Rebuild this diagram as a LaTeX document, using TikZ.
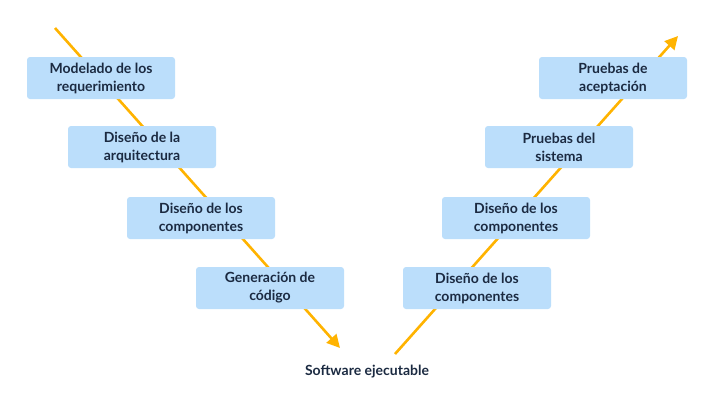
\documentclass[tikz,border=0pt]{standalone}
\usepackage{fontspec}
\setmainfont{Lato}
\usetikzlibrary{arrows.meta}
\definecolor{boxfill}{HTML}{BBDEFB}
\definecolor{txt}{HTML}{1B2A41}
\definecolor{arr}{HTML}{FFB300}
\begin{document}
\begin{tikzpicture}[x=1pt,y=-1pt,
  stage/.style={draw=none,fill=boxfill,rounded corners=3pt,minimum width=148pt,minimum height=42pt,
    align=center,text=txt,font=\fontsize{14pt}{18pt}\selectfont\bfseries,inner sep=0pt},
  flow/.style={draw=arr,line width=2.6pt,-{Triangle[length=13pt,width=13pt]}}]
\useasboundingbox (0,0) rectangle (715,402);
\coordinate (ls) at (55,28);
\coordinate (le) at (340,348);
\coordinate (rs) at (395,354);
\coordinate (re) at (678,36);
\draw[flow] (ls) -- (le);
\draw[flow] (rs) -- (re);
\node[stage] (m1) at (101,78) {Modelado de los\\requerimiento};
\node[stage] (m2) at (142,147) {Diseño de la\\arquitectura};
\node[stage] (m3) at (201,218) {Diseño de los\\componentes};
\node[stage] (m4) at (270,288) {Generación de\\código};
\node[stage] (p1) at (477,288) {Diseño de los\\componentes};
\node[stage] (p2) at (516,218) {Diseño de los\\componentes};
\node[stage] (p3) at (559,147) {Pruebas del\\sistema};
\node[stage] (p4) at (613,78) {Pruebas de\\aceptación};
\node[text=txt,font=\fontsize{14pt}{16pt}\selectfont\bfseries] (sw) at (367,372) {Software ejecutable};
\end{tikzpicture}
\end{document}
